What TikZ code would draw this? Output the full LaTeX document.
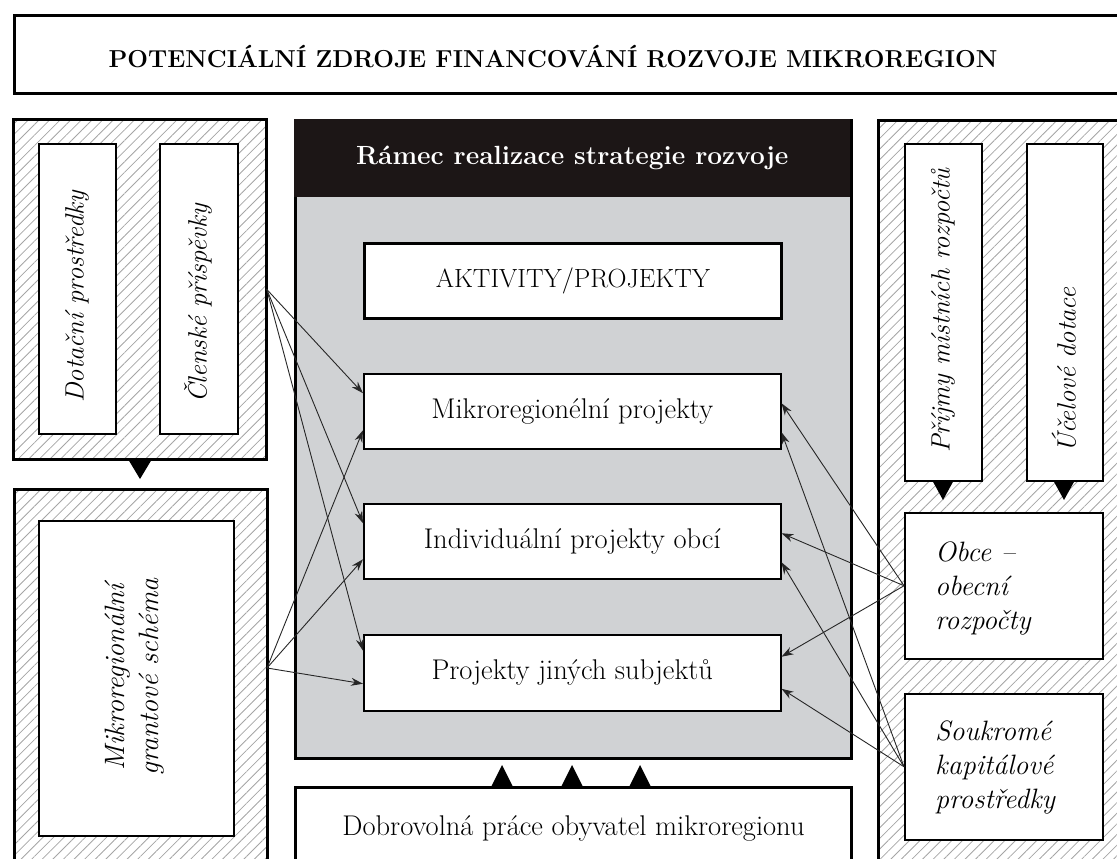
\documentclass[tikz,border=0pt]{standalone}
\usetikzlibrary{patterns.meta,arrows.meta}
\definecolor{cgray}{RGB}{208,210,212}
\definecolor{hdrblack}{RGB}{28,22,22}
\definecolor{hatchgray}{RGB}{165,165,165}
\tikzset{
  boxnw/.style={rectangle, anchor=north west, inner sep=0pt},
  panel/.style={boxnw, draw=black, line width=3pt, pattern={Lines[angle=45,distance=7.5pt,line width=0.8pt]}, pattern color=hatchgray},
  thinbox/.style={boxnw, draw=black, line width=1.5pt, fill=white},
  thickbox/.style={boxnw, draw=black, line width=3pt, fill=white},
  txt/.style={font=\fontsize{28.5}{34}\selectfont},
  vtxt/.style={font=\fontsize{26.5}{34}\selectfont\itshape},
  itxt/.style={font=\fontsize{28}{34}\selectfont\itshape},
  arr/.style={draw=black!85, line width=0.9pt, -{Stealth[length=12pt,width=8pt]}},
  tri/.style={fill=black}
}
\begin{document}
\begin{tikzpicture}[x=1pt,y=-1pt,every node/.append style={inner sep=0pt}]
\useasboundingbox (0,0) rectangle (1117,859);
\clip (0,0) rectangle (1117,859);
% title
\node[thickbox, minimum width=1120pt, minimum height=78pt] (title) at (13,14) {};
\node[font=\fontsize{24.5}{28}\selectfont\bfseries] (titletxt) at (553,57) {POTENCIÁLNÍ ZDROJE FINANCOVÁNÍ ROZVOJE MIKROREGION};
% left upper panel
\node[panel, minimum width=253pt, minimum height=340pt] (lp1) at (13,119) {};
\node[thinbox, minimum width=77pt, minimum height=290pt] (dot) at (38,143) {};
\node[vtxt, rotate=90, anchor=west] (dottxt) at (77,403) {Dotační prostředky};
\node[thinbox, minimum width=78pt, minimum height=290pt] (clen) at (159,143) {};
\node[vtxt, rotate=90, anchor=west] (clentxt) at (198,403) {Členské příspěvky};
\fill[tri] (128,459) -- (152,459) -- (140,479) -- cycle;
% left lower panel
\node[panel, minimum width=253pt, minimum height=420pt] (lp2) at (13,488) {};
\node[thinbox, minimum width=195pt, minimum height=315pt] (grant) at (38,520) {};
\node[itxt, rotate=90, align=center] (granttxt) at (135,677) {Mikroregionální\\grantové schéma};
% center
\node[boxnw, draw=black, line width=3pt, fill=cgray, minimum width=556pt, minimum height=638pt] (cp) at (294,119) {};
\node[boxnw, fill=hdrblack, minimum width=556pt, minimum height=78pt, text=white, font=\fontsize{26.3}{30}\selectfont\bfseries] (hdr) at (294,119) {Rámec realizace strategie rozvoje};
\node[thickbox, minimum width=417pt, minimum height=75pt, font=\fontsize{26.3}{30}\selectfont] (akt) at (363,242) {AKTIVITY/PROJEKTY};
\node[thinbox, minimum width=417pt, minimum height=75pt, txt] (mikro) at (363,373) {Mikroregionélní projekty};
\node[thinbox, minimum width=417pt, minimum height=75pt, txt] (indiv) at (363,503) {Individuální projekty obcí};
\node[thinbox, minimum width=417pt, minimum height=76pt, txt] (jine) at (363,634) {Projekty jiných subjektů};
\fill[tri] (491,787) -- (513,787) -- (502,765) -- cycle;
\fill[tri] (561,787) -- (583,787) -- (572,765) -- cycle;
\fill[tri] (629,787) -- (651,787) -- (640,765) -- cycle;
\node[thickbox, minimum width=556pt, minimum height=82pt, txt] (dobr) at (294,786) {Dobrovolná práce obyvatel mikroregionu};
% right panel
\node[panel, minimum width=263pt, minimum height=800pt] (rp) at (877,119) {};
\node[thinbox, minimum width=77pt, minimum height=337pt] (prij) at (904,143) {};
\node[vtxt, rotate=90, anchor=west] (prijtxt) at (943,453) {Příjmy místních rozpočtů};
\node[thinbox, minimum width=76pt, minimum height=337pt] (ucel) at (1026,143) {};
\node[vtxt, rotate=90, anchor=west] (uceltxt) at (1064,453) {Účelové dotace};
\fill[tri] (932,480) -- (954,480) -- (943,500) -- cycle;
\fill[tri] (1053,480) -- (1075,480) -- (1064,500) -- cycle;
\node[thinbox, minimum width=198pt, minimum height=146pt] (obce) at (904,512) {};
\node[itxt, anchor=west, align=left] (obcetxt) at (935,588) {Obce –\\obecní\\rozpočty};
\node[thinbox, minimum width=198pt, minimum height=146pt] (souk) at (904,693) {};
\node[itxt, anchor=west, align=left] (souktxt) at (935,767) {Soukromé\\kapitálové\\prostředky};
% connectors
\coordinate (srcB) at (267,668);
\draw[arr] (lp1.east) -- ([yshift=18pt]mikro.west);
\draw[arr] (lp1.east) -- ([yshift=18pt]indiv.west);
\draw[arr] (lp1.east) -- ([yshift=22pt]jine.west);
\draw[arr] (srcB) -- ([yshift=-19pt]mikro.west);
\draw[arr] (srcB) -- ([yshift=-18pt]indiv.west);
\draw[arr] (srcB) -- ([yshift=-11pt]jine.west);
\draw[arr] (obce.west) -- ([yshift=8pt]mikro.east);
\draw[arr] (obce.west) -- ([yshift=8pt]indiv.east);
\draw[arr] (obce.west) -- ([yshift=16pt]jine.east);
\draw[arr] (souk.west) -- ([yshift=-21pt]mikro.east);
\draw[arr] (souk.west) -- ([yshift=-21pt]indiv.east);
\draw[arr] (souk.west) -- ([yshift=-16pt]jine.east);
\end{tikzpicture}
\end{document}
